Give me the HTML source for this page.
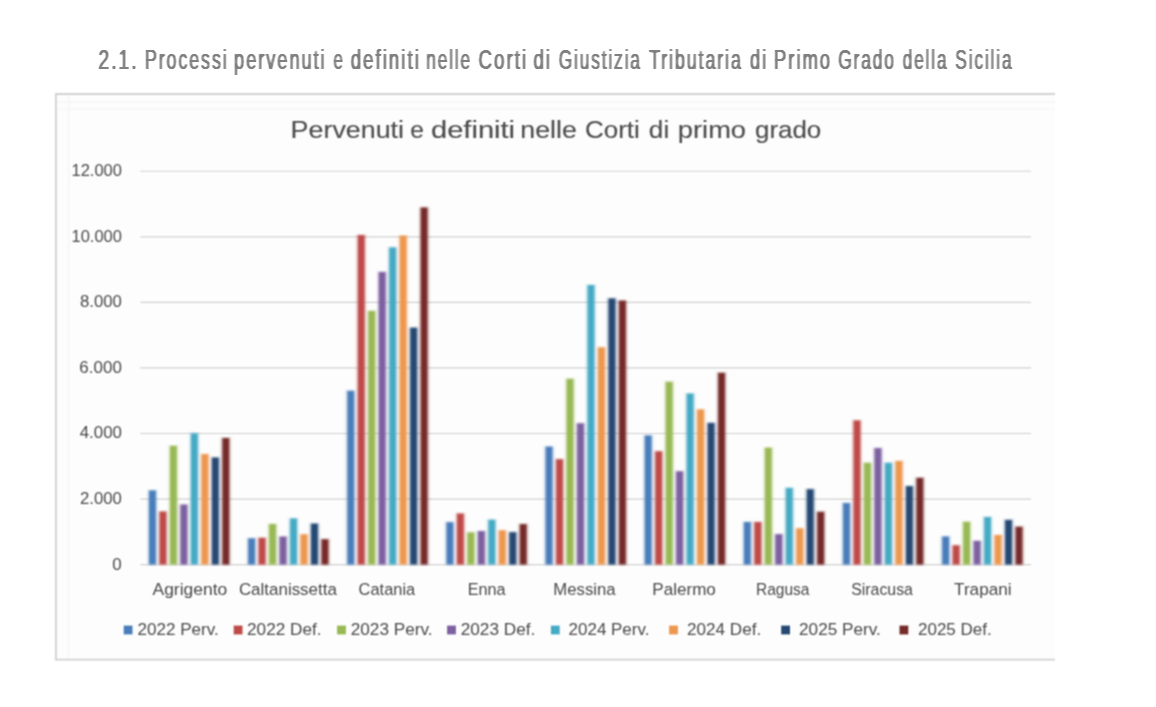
<!DOCTYPE html>
<html lang="it"><head><meta charset="utf-8"><title>2.1. Processi pervenuti e definiti</title>
<style>html,body{margin:0;padding:0;background:#fff}body{width:1156px;height:707px;overflow:hidden}svg{display:block}text{font-family:"Liberation Sans",sans-serif;white-space:pre}</style></head><body>
<svg width="1156" height="707" viewBox="0 0 1156 707">
<defs><filter id="b" x="-2%" y="-2%" width="104%" height="104%"><feGaussianBlur stdDeviation="0.9"/></filter><filter id="b2" x="-2%" y="-2%" width="104%" height="104%"><feGaussianBlur stdDeviation="0.9"/></filter><filter id="hx" x="-1%" y="-10%" width="102%" height="120%"><feGaussianBlur stdDeviation="0.8 0"/><feComponentTransfer><feFuncA type="linear" slope="2.6" intercept="-0.36"/></feComponentTransfer></filter><filter id="b3" x="-2%" y="-2%" width="104%" height="104%"><feConvolveMatrix order="3" kernelMatrix="1 2 1 2 4 2 1 2 1" divisor="16" edgeMode="none" preserveAlpha="false"/></filter></defs>
<rect width="1156" height="707" fill="#ffffff"/>
<g filter="url(#hx)">
<text y="68.60" font-size="28.0" fill="#808080" letter-spacing="3.0"><tspan x="98.56" textLength="40.00" lengthAdjust="spacingAndGlyphs">2.1.</tspan> <tspan x="144.95" textLength="83.69" lengthAdjust="spacingAndGlyphs">Processi</tspan> <tspan x="234.07" textLength="92.55" lengthAdjust="spacingAndGlyphs">pervenuti</tspan> <tspan x="333.58" textLength="11.14" lengthAdjust="spacingAndGlyphs">e</tspan> <tspan x="350.66" textLength="70.13" lengthAdjust="spacingAndGlyphs">definiti</tspan> <tspan x="426.27" textLength="45.65" lengthAdjust="spacingAndGlyphs">nelle</tspan> <tspan x="478.51" textLength="49.66" lengthAdjust="spacingAndGlyphs">Corti</tspan> <tspan x="533.43" textLength="18.49" lengthAdjust="spacingAndGlyphs">di</tspan> <tspan x="558.71" textLength="83.12" lengthAdjust="spacingAndGlyphs">Giustizia</tspan> <tspan x="649.16" textLength="93.62" lengthAdjust="spacingAndGlyphs">Tributaria</tspan> <tspan x="750.07" textLength="18.08" lengthAdjust="spacingAndGlyphs">di</tspan> <tspan x="773.97" textLength="58.10" lengthAdjust="spacingAndGlyphs">Primo</tspan> <tspan x="838.19" textLength="57.73" lengthAdjust="spacingAndGlyphs">Grado</tspan> <tspan x="902.75" textLength="45.59" lengthAdjust="spacingAndGlyphs">della</tspan> <tspan x="955.37" textLength="58.07" lengthAdjust="spacingAndGlyphs">Sicilia</tspan></text>
</g>
<rect x="56" y="94" width="999" height="566" fill="#fdfdfd"/>
<g filter="url(#b3)">
<path d="M57 102.3 H1055 M57 109 H1055 M68.8 95 V659" fill="none" stroke="#f6f6f6" stroke-width="1.4"/>
<path d="M55.9 660.5 V94 H1055" fill="none" stroke="#d2d2d2" stroke-width="1.9"/>
<path d="M55.9 659.6 H1055" fill="none" stroke="#d2d2d2" stroke-width="1.9"/>
<line x1="140.3" x2="1031" y1="564.60" y2="564.60" stroke="#d2d2d2" stroke-width="1.2"/>
<line x1="140.3" x2="1031" y1="499.04" y2="499.04" stroke="#d2d2d2" stroke-width="1.2"/>
<line x1="140.3" x2="1031" y1="433.48" y2="433.48" stroke="#d2d2d2" stroke-width="1.2"/>
<line x1="140.3" x2="1031" y1="367.92" y2="367.92" stroke="#d2d2d2" stroke-width="1.2"/>
<line x1="140.3" x2="1031" y1="302.36" y2="302.36" stroke="#d2d2d2" stroke-width="1.2"/>
<line x1="140.3" x2="1031" y1="236.80" y2="236.80" stroke="#d2d2d2" stroke-width="1.2"/>
<line x1="140.3" x2="1031" y1="171.24" y2="171.24" stroke="#d2d2d2" stroke-width="1.2"/>
</g>
<g filter="url(#b)">
<rect x="147.15" y="489.90" width="10.6" height="74.70" fill="#4a7ebb" opacity="0.22"/>
<rect x="149.05" y="490.40" width="6.8" height="74.20" fill="#4a7ebb"/>
<rect x="157.63" y="511.00" width="10.6" height="53.60" fill="#be4b48" opacity="0.22"/>
<rect x="159.53" y="511.50" width="6.8" height="53.10" fill="#be4b48"/>
<rect x="168.11" y="445.30" width="10.6" height="119.30" fill="#98b954" opacity="0.22"/>
<rect x="170.01" y="445.80" width="6.8" height="118.80" fill="#98b954"/>
<rect x="178.59" y="504.10" width="10.6" height="60.50" fill="#7d60a0" opacity="0.22"/>
<rect x="180.49" y="504.60" width="6.8" height="60.00" fill="#7d60a0"/>
<rect x="189.07" y="432.80" width="10.6" height="131.80" fill="#46aac5" opacity="0.22"/>
<rect x="190.97" y="433.30" width="6.8" height="131.30" fill="#46aac5"/>
<rect x="199.55" y="453.60" width="10.6" height="111.00" fill="#ec9850" opacity="0.22"/>
<rect x="201.45" y="454.10" width="6.8" height="110.50" fill="#ec9850"/>
<rect x="210.03" y="457.00" width="10.6" height="107.60" fill="#264a73" opacity="0.22"/>
<rect x="211.93" y="457.50" width="6.8" height="107.10" fill="#264a73"/>
<rect x="220.51" y="437.50" width="10.6" height="127.10" fill="#772c2a" opacity="0.22"/>
<rect x="222.41" y="438.00" width="6.8" height="126.60" fill="#772c2a"/>
<rect x="246.30" y="537.80" width="10.6" height="26.80" fill="#4a7ebb" opacity="0.22"/>
<rect x="248.20" y="538.30" width="6.8" height="26.30" fill="#4a7ebb"/>
<rect x="256.78" y="537.30" width="10.6" height="27.30" fill="#be4b48" opacity="0.22"/>
<rect x="258.68" y="537.80" width="6.8" height="26.80" fill="#be4b48"/>
<rect x="267.26" y="523.50" width="10.6" height="41.10" fill="#98b954" opacity="0.22"/>
<rect x="269.16" y="524.00" width="6.8" height="40.60" fill="#98b954"/>
<rect x="277.74" y="536.10" width="10.6" height="28.50" fill="#7d60a0" opacity="0.22"/>
<rect x="279.64" y="536.60" width="6.8" height="28.00" fill="#7d60a0"/>
<rect x="288.22" y="517.90" width="10.6" height="46.70" fill="#46aac5" opacity="0.22"/>
<rect x="290.12" y="518.40" width="6.8" height="46.20" fill="#46aac5"/>
<rect x="298.70" y="533.80" width="10.6" height="30.80" fill="#ec9850" opacity="0.22"/>
<rect x="300.60" y="534.30" width="6.8" height="30.30" fill="#ec9850"/>
<rect x="309.18" y="523.10" width="10.6" height="41.50" fill="#264a73" opacity="0.22"/>
<rect x="311.08" y="523.60" width="6.8" height="41.00" fill="#264a73"/>
<rect x="319.66" y="538.70" width="10.6" height="25.90" fill="#772c2a" opacity="0.22"/>
<rect x="321.56" y="539.20" width="6.8" height="25.40" fill="#772c2a"/>
<rect x="345.45" y="390.30" width="10.6" height="174.30" fill="#4a7ebb" opacity="0.22"/>
<rect x="347.35" y="390.80" width="6.8" height="173.80" fill="#4a7ebb"/>
<rect x="355.93" y="234.60" width="10.6" height="330.00" fill="#be4b48" opacity="0.22"/>
<rect x="357.83" y="235.10" width="6.8" height="329.50" fill="#be4b48"/>
<rect x="366.41" y="310.40" width="10.6" height="254.20" fill="#98b954" opacity="0.22"/>
<rect x="368.31" y="310.90" width="6.8" height="253.70" fill="#98b954"/>
<rect x="376.89" y="271.50" width="10.6" height="293.10" fill="#7d60a0" opacity="0.22"/>
<rect x="378.79" y="272.00" width="6.8" height="292.60" fill="#7d60a0"/>
<rect x="387.37" y="246.90" width="10.6" height="317.70" fill="#46aac5" opacity="0.22"/>
<rect x="389.27" y="247.40" width="6.8" height="317.20" fill="#46aac5"/>
<rect x="397.85" y="235.20" width="10.6" height="329.40" fill="#ec9850" opacity="0.22"/>
<rect x="399.75" y="235.70" width="6.8" height="328.90" fill="#ec9850"/>
<rect x="408.33" y="327.20" width="10.6" height="237.40" fill="#264a73" opacity="0.22"/>
<rect x="410.23" y="327.70" width="6.8" height="236.90" fill="#264a73"/>
<rect x="418.81" y="207.00" width="10.6" height="357.60" fill="#772c2a" opacity="0.22"/>
<rect x="420.71" y="207.50" width="6.8" height="357.10" fill="#772c2a"/>
<rect x="444.60" y="521.70" width="10.6" height="42.90" fill="#4a7ebb" opacity="0.22"/>
<rect x="446.50" y="522.20" width="6.8" height="42.40" fill="#4a7ebb"/>
<rect x="455.08" y="513.00" width="10.6" height="51.60" fill="#be4b48" opacity="0.22"/>
<rect x="456.98" y="513.50" width="6.8" height="51.10" fill="#be4b48"/>
<rect x="465.56" y="531.90" width="10.6" height="32.70" fill="#98b954" opacity="0.22"/>
<rect x="467.46" y="532.40" width="6.8" height="32.20" fill="#98b954"/>
<rect x="476.04" y="530.60" width="10.6" height="34.00" fill="#7d60a0" opacity="0.22"/>
<rect x="477.94" y="531.10" width="6.8" height="33.50" fill="#7d60a0"/>
<rect x="486.52" y="519.20" width="10.6" height="45.40" fill="#46aac5" opacity="0.22"/>
<rect x="488.42" y="519.70" width="6.8" height="44.90" fill="#46aac5"/>
<rect x="497.00" y="529.80" width="10.6" height="34.80" fill="#ec9850" opacity="0.22"/>
<rect x="498.90" y="530.30" width="6.8" height="34.30" fill="#ec9850"/>
<rect x="507.48" y="531.70" width="10.6" height="32.90" fill="#264a73" opacity="0.22"/>
<rect x="509.38" y="532.20" width="6.8" height="32.40" fill="#264a73"/>
<rect x="517.96" y="523.60" width="10.6" height="41.00" fill="#772c2a" opacity="0.22"/>
<rect x="519.86" y="524.10" width="6.8" height="40.50" fill="#772c2a"/>
<rect x="543.75" y="446.10" width="10.6" height="118.50" fill="#4a7ebb" opacity="0.22"/>
<rect x="545.65" y="446.60" width="6.8" height="118.00" fill="#4a7ebb"/>
<rect x="554.23" y="458.70" width="10.6" height="105.90" fill="#be4b48" opacity="0.22"/>
<rect x="556.13" y="459.20" width="6.8" height="105.40" fill="#be4b48"/>
<rect x="564.71" y="378.30" width="10.6" height="186.30" fill="#98b954" opacity="0.22"/>
<rect x="566.61" y="378.80" width="6.8" height="185.80" fill="#98b954"/>
<rect x="575.19" y="422.80" width="10.6" height="141.80" fill="#7d60a0" opacity="0.22"/>
<rect x="577.09" y="423.30" width="6.8" height="141.30" fill="#7d60a0"/>
<rect x="585.67" y="284.50" width="10.6" height="280.10" fill="#46aac5" opacity="0.22"/>
<rect x="587.57" y="285.00" width="6.8" height="279.60" fill="#46aac5"/>
<rect x="596.15" y="346.80" width="10.6" height="217.80" fill="#ec9850" opacity="0.22"/>
<rect x="598.05" y="347.30" width="6.8" height="217.30" fill="#ec9850"/>
<rect x="606.63" y="297.90" width="10.6" height="266.70" fill="#264a73" opacity="0.22"/>
<rect x="608.53" y="298.40" width="6.8" height="266.20" fill="#264a73"/>
<rect x="617.11" y="300.10" width="10.6" height="264.50" fill="#772c2a" opacity="0.22"/>
<rect x="619.01" y="300.60" width="6.8" height="264.00" fill="#772c2a"/>
<rect x="642.90" y="434.90" width="10.6" height="129.70" fill="#4a7ebb" opacity="0.22"/>
<rect x="644.80" y="435.40" width="6.8" height="129.20" fill="#4a7ebb"/>
<rect x="653.38" y="450.80" width="10.6" height="113.80" fill="#be4b48" opacity="0.22"/>
<rect x="655.28" y="451.30" width="6.8" height="113.30" fill="#be4b48"/>
<rect x="663.86" y="381.30" width="10.6" height="183.30" fill="#98b954" opacity="0.22"/>
<rect x="665.76" y="381.80" width="6.8" height="182.80" fill="#98b954"/>
<rect x="674.34" y="470.80" width="10.6" height="93.80" fill="#7d60a0" opacity="0.22"/>
<rect x="676.24" y="471.30" width="6.8" height="93.30" fill="#7d60a0"/>
<rect x="684.82" y="393.00" width="10.6" height="171.60" fill="#46aac5" opacity="0.22"/>
<rect x="686.72" y="393.50" width="6.8" height="171.10" fill="#46aac5"/>
<rect x="695.30" y="408.90" width="10.6" height="155.70" fill="#ec9850" opacity="0.22"/>
<rect x="697.20" y="409.40" width="6.8" height="155.20" fill="#ec9850"/>
<rect x="705.78" y="422.40" width="10.6" height="142.20" fill="#264a73" opacity="0.22"/>
<rect x="707.68" y="422.90" width="6.8" height="141.70" fill="#264a73"/>
<rect x="716.26" y="372.30" width="10.6" height="192.30" fill="#772c2a" opacity="0.22"/>
<rect x="718.16" y="372.80" width="6.8" height="191.80" fill="#772c2a"/>
<rect x="742.05" y="521.50" width="10.6" height="43.10" fill="#4a7ebb" opacity="0.22"/>
<rect x="743.95" y="522.00" width="6.8" height="42.60" fill="#4a7ebb"/>
<rect x="752.53" y="521.50" width="10.6" height="43.10" fill="#be4b48" opacity="0.22"/>
<rect x="754.43" y="522.00" width="6.8" height="42.60" fill="#be4b48"/>
<rect x="763.01" y="447.20" width="10.6" height="117.40" fill="#98b954" opacity="0.22"/>
<rect x="764.91" y="447.70" width="6.8" height="116.90" fill="#98b954"/>
<rect x="773.49" y="533.70" width="10.6" height="30.90" fill="#7d60a0" opacity="0.22"/>
<rect x="775.39" y="534.20" width="6.8" height="30.40" fill="#7d60a0"/>
<rect x="783.97" y="487.40" width="10.6" height="77.20" fill="#46aac5" opacity="0.22"/>
<rect x="785.87" y="487.90" width="6.8" height="76.70" fill="#46aac5"/>
<rect x="794.45" y="527.80" width="10.6" height="36.80" fill="#ec9850" opacity="0.22"/>
<rect x="796.35" y="528.30" width="6.8" height="36.30" fill="#ec9850"/>
<rect x="804.93" y="488.70" width="10.6" height="75.90" fill="#264a73" opacity="0.22"/>
<rect x="806.83" y="489.20" width="6.8" height="75.40" fill="#264a73"/>
<rect x="815.41" y="511.30" width="10.6" height="53.30" fill="#772c2a" opacity="0.22"/>
<rect x="817.31" y="511.80" width="6.8" height="52.80" fill="#772c2a"/>
<rect x="841.20" y="502.50" width="10.6" height="62.10" fill="#4a7ebb" opacity="0.22"/>
<rect x="843.10" y="503.00" width="6.8" height="61.60" fill="#4a7ebb"/>
<rect x="851.68" y="419.90" width="10.6" height="144.70" fill="#be4b48" opacity="0.22"/>
<rect x="853.58" y="420.40" width="6.8" height="144.20" fill="#be4b48"/>
<rect x="862.16" y="462.30" width="10.6" height="102.30" fill="#98b954" opacity="0.22"/>
<rect x="864.06" y="462.80" width="6.8" height="101.80" fill="#98b954"/>
<rect x="872.64" y="447.60" width="10.6" height="117.00" fill="#7d60a0" opacity="0.22"/>
<rect x="874.54" y="448.10" width="6.8" height="116.50" fill="#7d60a0"/>
<rect x="883.12" y="462.30" width="10.6" height="102.30" fill="#46aac5" opacity="0.22"/>
<rect x="885.02" y="462.80" width="6.8" height="101.80" fill="#46aac5"/>
<rect x="893.60" y="460.50" width="10.6" height="104.10" fill="#ec9850" opacity="0.22"/>
<rect x="895.50" y="461.00" width="6.8" height="103.60" fill="#ec9850"/>
<rect x="904.08" y="485.60" width="10.6" height="79.00" fill="#264a73" opacity="0.22"/>
<rect x="905.98" y="486.10" width="6.8" height="78.50" fill="#264a73"/>
<rect x="914.56" y="477.30" width="10.6" height="87.30" fill="#772c2a" opacity="0.22"/>
<rect x="916.46" y="477.80" width="6.8" height="86.80" fill="#772c2a"/>
<rect x="940.35" y="536.00" width="10.6" height="28.60" fill="#4a7ebb" opacity="0.22"/>
<rect x="942.25" y="536.50" width="6.8" height="28.10" fill="#4a7ebb"/>
<rect x="950.83" y="544.80" width="10.6" height="19.80" fill="#be4b48" opacity="0.22"/>
<rect x="952.73" y="545.30" width="6.8" height="19.30" fill="#be4b48"/>
<rect x="961.31" y="521.30" width="10.6" height="43.30" fill="#98b954" opacity="0.22"/>
<rect x="963.21" y="521.80" width="6.8" height="42.80" fill="#98b954"/>
<rect x="971.79" y="540.40" width="10.6" height="24.20" fill="#7d60a0" opacity="0.22"/>
<rect x="973.69" y="540.90" width="6.8" height="23.70" fill="#7d60a0"/>
<rect x="982.27" y="516.50" width="10.6" height="48.10" fill="#46aac5" opacity="0.22"/>
<rect x="984.17" y="517.00" width="6.8" height="47.60" fill="#46aac5"/>
<rect x="992.75" y="534.50" width="10.6" height="30.10" fill="#ec9850" opacity="0.22"/>
<rect x="994.65" y="535.00" width="6.8" height="29.60" fill="#ec9850"/>
<rect x="1003.23" y="519.40" width="10.6" height="45.20" fill="#264a73" opacity="0.22"/>
<rect x="1005.13" y="519.90" width="6.8" height="44.70" fill="#264a73"/>
<rect x="1013.71" y="526.20" width="10.6" height="38.40" fill="#772c2a" opacity="0.22"/>
<rect x="1015.61" y="526.70" width="6.8" height="37.90" fill="#772c2a"/>
</g>
<g filter="url(#b3)">
<rect x="123.7" y="625.6" width="8.8" height="8.8" fill="#4a7ebb"/>
<rect x="233.7" y="625.6" width="8.8" height="8.8" fill="#be4b48"/>
<rect x="337.1" y="625.6" width="8.8" height="8.8" fill="#98b954"/>
<rect x="447.1" y="625.6" width="8.8" height="8.8" fill="#7d60a0"/>
<rect x="550.9" y="625.6" width="8.8" height="8.8" fill="#46aac5"/>
<rect x="669.1" y="625.6" width="8.8" height="8.8" fill="#ec9850"/>
<rect x="781.2" y="625.6" width="8.8" height="8.8" fill="#264a73"/>
<rect x="899.5" y="625.6" width="8.8" height="8.8" fill="#772c2a"/>
<text x="112.37" y="569.60" font-size="16.4" fill="#4a4a4a" textLength="9.44" lengthAdjust="spacingAndGlyphs">0</text>
<text x="79.98" y="504.04" font-size="16.4" fill="#4a4a4a" textLength="41.90" lengthAdjust="spacingAndGlyphs">2.000</text>
<text x="79.73" y="438.48" font-size="16.4" fill="#4a4a4a" textLength="42.26" lengthAdjust="spacingAndGlyphs">4.000</text>
<text x="79.33" y="372.92" font-size="16.4" fill="#4a4a4a" textLength="42.56" lengthAdjust="spacingAndGlyphs">6.000</text>
<text x="79.98" y="307.36" font-size="16.4" fill="#4a4a4a" textLength="41.90" lengthAdjust="spacingAndGlyphs">8.000</text>
<text x="71.48" y="241.80" font-size="16.4" fill="#4a4a4a" textLength="50.51" lengthAdjust="spacingAndGlyphs">10.000</text>
<text x="71.48" y="176.24" font-size="16.4" fill="#4a4a4a" textLength="50.51" lengthAdjust="spacingAndGlyphs">12.000</text>
<text x="152.53" y="594.50" font-size="17.2" fill="#4a4a4a" textLength="74.75" lengthAdjust="spacingAndGlyphs">Agrigento</text>
<text x="238.88" y="594.50" font-size="17.2" fill="#4a4a4a" textLength="98.00" lengthAdjust="spacingAndGlyphs">Caltanissetta</text>
<text x="358.61" y="594.50" font-size="17.2" fill="#4a4a4a" textLength="56.59" lengthAdjust="spacingAndGlyphs">Catania</text>
<text x="467.64" y="594.50" font-size="17.2" fill="#4a4a4a" textLength="37.77" lengthAdjust="spacingAndGlyphs">Enna</text>
<text x="553.28" y="594.50" font-size="17.2" fill="#4a4a4a" textLength="62.33" lengthAdjust="spacingAndGlyphs">Messina</text>
<text x="652.35" y="594.50" font-size="17.2" fill="#4a4a4a" textLength="63.50" lengthAdjust="spacingAndGlyphs">Palermo</text>
<text x="755.96" y="594.50" font-size="17.2" fill="#4a4a4a" textLength="53.54" lengthAdjust="spacingAndGlyphs">Ragusa</text>
<text x="851.16" y="594.50" font-size="17.2" fill="#4a4a4a" textLength="61.77" lengthAdjust="spacingAndGlyphs">Siracusa</text>
<text x="954.09" y="594.50" font-size="17.2" fill="#4a4a4a" textLength="57.49" lengthAdjust="spacingAndGlyphs">Trapani</text>
<text x="137.48" y="634.80" font-size="16.6" fill="#4a4a4a" textLength="81.20" lengthAdjust="spacingAndGlyphs">2022 Perv.</text>
<text x="247.06" y="634.80" font-size="16.6" fill="#4a4a4a" textLength="74.48" lengthAdjust="spacingAndGlyphs">2022 Def.</text>
<text x="350.76" y="634.80" font-size="16.6" fill="#4a4a4a" textLength="81.78" lengthAdjust="spacingAndGlyphs">2023 Perv.</text>
<text x="460.76" y="634.80" font-size="16.6" fill="#4a4a4a" textLength="74.55" lengthAdjust="spacingAndGlyphs">2023 Def.</text>
<text x="568.64" y="634.80" font-size="16.6" fill="#4a4a4a" textLength="80.73" lengthAdjust="spacingAndGlyphs">2024 Perv.</text>
<text x="686.99" y="634.80" font-size="16.6" fill="#4a4a4a" textLength="74.21" lengthAdjust="spacingAndGlyphs">2024 Def.</text>
<text x="799.08" y="634.80" font-size="16.6" fill="#4a4a4a" textLength="81.75" lengthAdjust="spacingAndGlyphs">2025 Perv.</text>
<text x="917.98" y="634.80" font-size="16.6" fill="#4a4a4a" textLength="73.73" lengthAdjust="spacingAndGlyphs">2025 Def.</text>
<text y="137.50" font-size="24.4" fill="#4c4c4c" stroke="#4c4c4c" stroke-width="0.12"><tspan x="290.63" textLength="113.41" lengthAdjust="spacingAndGlyphs">Pervenuti</tspan> <tspan x="410.18" textLength="13.67" lengthAdjust="spacingAndGlyphs">e</tspan> <tspan x="430.97" textLength="84.13" lengthAdjust="spacingAndGlyphs">definiti</tspan> <tspan x="520.34" textLength="56.51" lengthAdjust="spacingAndGlyphs">nelle</tspan> <tspan x="584.96" textLength="54.83" lengthAdjust="spacingAndGlyphs">Corti</tspan> <tspan x="648.88" textLength="20.32" lengthAdjust="spacingAndGlyphs">di</tspan> <tspan x="677.86" textLength="68.18" lengthAdjust="spacingAndGlyphs">primo</tspan> <tspan x="754.97" textLength="66.31" lengthAdjust="spacingAndGlyphs">grado</tspan></text>
</g>
</svg></body></html>
